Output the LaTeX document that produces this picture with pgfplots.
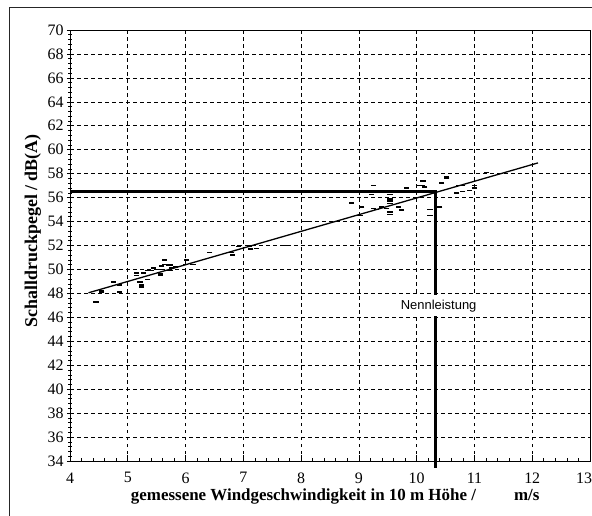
\documentclass[border=0pt]{standalone}
\usepackage{pgfplots}
\pgfplotsset{compat=1.18}
\usepackage{fontspec}
\setmainfont{Liberation Serif}
\newfontfamily\arial{Liberation Sans}
\begin{document}
\begin{tikzpicture}
\path[use as bounding box] (0,0) rectangle (592bp,516bp);
\draw[line width=0.8bp, black!85] (9.4bp,0) -- (9.4bp,509bp) -- (592bp,509bp);
\begin{axis}[
  at={(70bp,55bp)}, anchor=south west,
  scale only axis, width=520bp, height=431bp,
  xmin=4, xmax=13, ymin=34, ymax=70,
  xtick={4,5,...,13}, ytick={34,36,...,70},
  xticklabels={4,5,6,7,8,9,10,11,12,{\hspace*{-12bp}13}},
  minor x tick num=4, minor y tick num=4,
  xtick pos=bottom, ytick pos=left,
  xtick align=inside, ytick align=center,
  major tick length=6bp, minor tick length=3bp,
  tick style={black, line width=0.6pt},
  grid=major,
  major grid style={black, line width=0.6pt, dash pattern=on 3.5bp off 3.5bp},
  axis line style={black, line width=0.9pt},
  clip=false,
  /pgf/number format/assume math mode=true,
  ticklabel style={font=\fontsize{16}{18}\selectfont},
  xticklabel style={yshift=-8bp},
  xlabel={gemessene Windgeschwindigkeit in 10 m Höhe /\hspace{38bp}m/s},
  ylabel={Schalldruckpegel / dB(A)},
  xlabel style={font=\bfseries\fontsize{17}{19}\selectfont, at={(axis description cs:0.51,-0.0835)}, anchor=center},
  ylabel style={font=\bfseries\fontsize{18}{20}\selectfont, at={(axis description cs:-0.0712,0.534)}, anchor=center},
]
\addplot[only marks, mark=-, mark size=2.6bp, mark options={black, line width=1.6bp}] table {
x y
4.45 47.3
4.55 48.1
4.55 48.2
4.75 48.95
4.85 48.7
4.85 48.1
5.15 49.7
5.15 49.5
5.21 48.95
5.24 48.7
5.24 48.55
5.27 49.7
5.34 49.15
5.34 49.9
5.41 49.9
5.44 50.1
5.53 50.0
5.56 49.6
5.56 49.5
5.59 50.3
5.63 50.4
5.63 50.8
5.70 50.35
5.73 50.35
5.73 49.9
5.76 50.1
5.82 50.2
6.02 50.8
6.00 50.4
6.13 50.4
6.42 51.4
6.80 51.4
6.81 51.2
6.92 51.9
6.94 52.0
7.11 51.95
7.13 51.7
7.23 51.75
7.72 52.0
8.12 54.0
8.87 55.55
9.05 55.2
9.02 54.5
9.25 57.0
9.22 56.26
9.25 55.1
9.30 55.0
9.39 55.2
9.48 55.1
9.54 56.26
9.54 55.9
9.54 55.7
9.54 55.5
9.54 54.8
9.54 54.6
9.68 55.2
9.74 54.95
9.82 56.8
10.03 57.0
10.10 57.0
10.11 57.4
10.14 56.9
10.23 55.0
10.23 54.5
10.40 55.2
10.43 57.2
10.52 57.6
10.52 57.7
10.72 57.0
10.80 57.0
10.69 56.4
10.80 56.5
10.92 56.6
11.00 57.0
11.00 56.8
11.21 58.1
};
\addplot[black, line width=1.3pt] coordinates {(4.32,48.05) (12.1,58.9)};
\addplot[black, line width=2.6pt, line join=miter] coordinates {(4,56.5) (10.33,56.5) (10.33,33.4)};
\node[fill=white, inner xsep=1bp, inner ysep=0pt, minimum height=21bp, font=\arial\fontsize{13}{15}\selectfont] at (axis cs:10.38,46.95) {Nennleistung};
\end{axis}
\end{tikzpicture}
\end{document}
